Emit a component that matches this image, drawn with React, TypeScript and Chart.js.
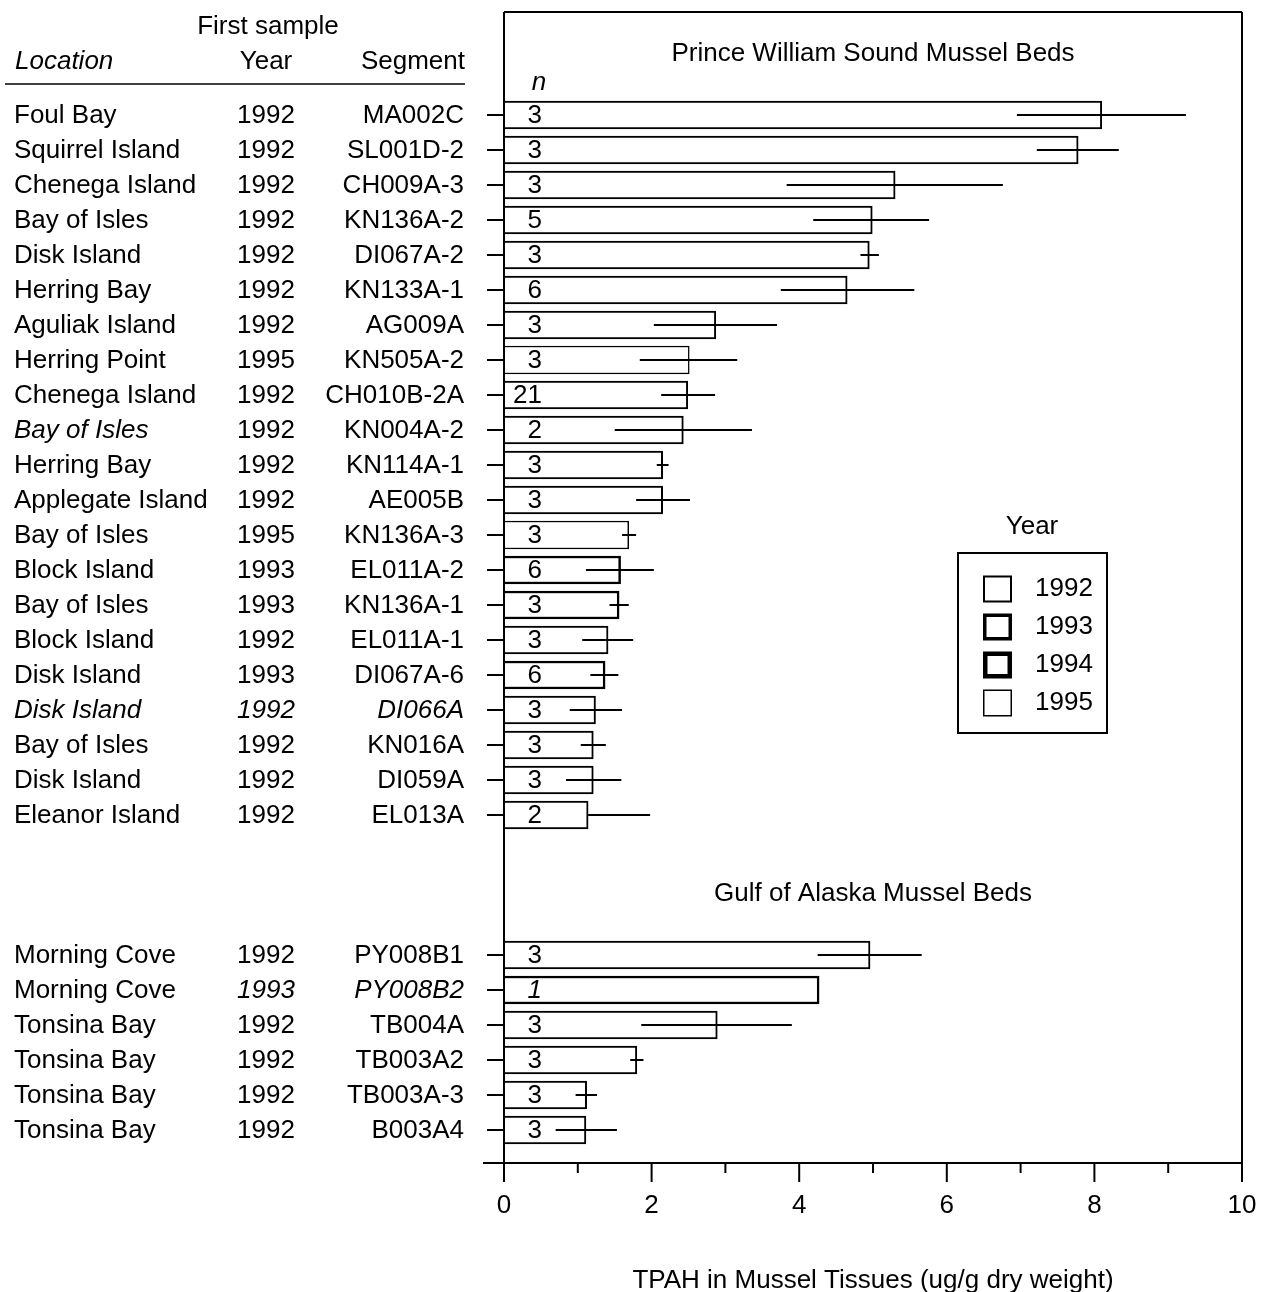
import { useEffect, useRef } from 'react';
import { Chart, registerables } from 'chart.js';

Chart.register(...registerables);

// ---------- data ----------
const locations = [
  'Foul Bay', 'Squirrel Island', 'Chenega Island', 'Bay of Isles', 'Disk Island',
  'Herring Bay', 'Aguliak Island', 'Herring Point', 'Chenega Island', 'Bay of Isles',
  'Herring Bay', 'Applegate Island', 'Bay of Isles', 'Block Island', 'Bay of Isles',
  'Block Island', 'Disk Island', 'Disk Island', 'Bay of Isles', 'Disk Island',
  'Eleanor Island',
  'Morning Cove', 'Morning Cove', 'Tonsina Bay', 'Tonsina Bay', 'Tonsina Bay', 'Tonsina Bay',
];
const years = [
  '1992', '1992', '1992', '1992', '1992', '1992', '1992', '1995', '1992', '1992',
  '1992', '1992', '1995', '1993', '1993', '1992', '1993', '1992', '1992', '1992',
  '1992',
  '1992', '1993', '1992', '1992', '1992', '1992',
];
const segments = [
  'MA002C', 'SL001D-2', 'CH009A-3', 'KN136A-2', 'DI067A-2', 'KN133A-1', 'AG009A',
  'KN505A-2', 'CH010B-2A', 'KN004A-2', 'KN114A-1', 'AE005B', 'KN136A-3', 'EL011A-2',
  'KN136A-1', 'EL011A-1', 'DI067A-6', 'DI066A', 'KN016A', 'DI059A', 'EL013A',
  'PY008B1', 'PY008B2', 'TB004A', 'TB003A2', 'TB003A-3', 'B003A4',
];
// row slot of each sample (PWS rows 0-20, a gap, then Gulf of Alaska rows 24-29)
const rowSlots = [
  0, 1, 2, 3, 4, 5, 6, 7, 8, 9, 10, 11, 12, 13, 14, 15, 16, 17, 18, 19, 20,
  24, 25, 26, 27, 28, 29,
];
const meanTPAH = [
  8.10, 7.78, 5.30, 4.99, 4.95, 4.65, 2.87, 2.51, 2.49, 2.43, 2.15, 2.15, 1.69, 1.58,
  1.56, 1.41, 1.37, 1.24, 1.21, 1.21, 1.14,
  4.96, 4.27, 2.89, 1.80, 1.12, 1.11,
];
const lowerTPAH: (number | null)[] = [
  6.95, 7.22, 3.83, 4.19, 4.83, 3.75, 2.03, 1.84, 2.13, 1.50, 2.07, 1.79, 1.60, 1.11,
  1.43, 1.06, 1.17, 0.89, 1.04, 0.84, 1.14,
  4.25, null, 1.86, 1.71, 0.97, 0.70,
];
const upperTPAH: (number | null)[] = [
  9.24, 8.33, 6.76, 5.76, 5.08, 5.56, 3.70, 3.16, 2.86, 3.36, 2.23, 2.52, 1.79, 2.03,
  1.69, 1.75, 1.55, 1.60, 1.38, 1.59, 1.98,
  5.66, null, 3.90, 1.89, 1.26, 1.53,
];
const sampleN = [
  '3', '3', '3', '5', '3', '6', '3', '3', '21', '2', '3', '3', '3', '6', '3', '3', '6',
  '3', '3', '3', '2',
  '3', '1', '3', '3', '3', '3',
];
const legendYears = ['1992', '1993', '1994', '1995'];
const xTickValues = [0, 1, 2, 3, 4, 5, 6, 7, 8, 9, 10];
const panelTitles = ['Prince William Sound Mussel Beds', 'Gulf of Alaska Mussel Beds'];
const panelTitleSlots = [-1.75, 22.25];
const xAxisTitle = 'TPAH in Mussel Tissues (ug/g dry weight)';
const tableHeaders = { group: 'First sample', location: 'Location', year: 'Year', segment: 'Segment', n: 'n' };

// ---------- styles ----------
const FAMILY = '"Liberation Sans", Arial, Helvetica, sans-serif';
const fnt = (size: number, italic = false) => `${italic ? 'italic ' : ''}${size}px ${FAMILY}`;
const TXT = 26;
const italicRows: Record<number, string[]> = {
  9: ['loc'],
  17: ['loc', 'year', 'seg'],
  22: ['year', 'seg', 'n'],
};
const yearBorder: Record<string, number> = { '1992': 2, '1993': 2.5, '1994': 3.5, '1995': 1.5 };
const legendBorder: Record<string, number> = { '1992': 2, '1993': 3.5, '1994': 4.5, '1995': 1.5 };

const decorPlugin = {
  id: 'decor',
  afterDraw(chart: any) {
    const { ctx, chartArea: ca, scales } = chart;
    const x = scales.x;
    const y = scales.y;
    ctx.save();
    ctx.strokeStyle = '#000';
    ctx.fillStyle = '#000';

    // error bars
    ctx.lineWidth = 2;
    meanTPAH.forEach((_, i) => {
      const lo = lowerTPAH[i];
      const hi = upperTPAH[i];
      if (lo == null || hi == null) return;
      const py = Math.round(y.getPixelForValue(rowSlots[i]));
      ctx.beginPath();
      ctx.moveTo(x.getPixelForValue(lo), py);
      ctx.lineTo(x.getPixelForValue(hi), py);
      ctx.stroke();
    });

    // frame & axes
    ctx.lineWidth = 2;
    ctx.beginPath();
    ctx.moveTo(ca.left - 21, ca.bottom);
    ctx.lineTo(ca.right, ca.bottom);
    ctx.moveTo(ca.left, ca.top);
    ctx.lineTo(ca.right, ca.top);
    ctx.moveTo(ca.left, ca.top);
    ctx.lineTo(ca.left, ca.bottom);
    ctx.moveTo(ca.right, ca.top);
    ctx.lineTo(ca.right, ca.bottom);
    ctx.stroke();
    // x ticks
    xTickValues.forEach((v) => {
      const px = x.getPixelForValue(v);
      const len = v % 2 === 0 ? 19 : 10;
      ctx.beginPath();
      ctx.moveTo(px, ca.bottom);
      ctx.lineTo(px, ca.bottom + len);
      ctx.stroke();
    });

    // n labels inside bars
    ctx.textBaseline = 'middle';
    ctx.textAlign = 'right';
    const nx = x.getPixelForValue(0) + 38;
    sampleN.forEach((n, i) => {
      const it = (italicRows[i] || []).includes('n');
      ctx.font = fnt(TXT, it);
      ctx.fillText(n, nx, y.getPixelForValue(rowSlots[i]) + 1);
    });
    ctx.font = fnt(TXT, true);
    ctx.textAlign = 'center';
    ctx.fillText(tableHeaders.n, nx - 3, y.getPixelForValue(-0.92));

    // panel titles
    ctx.font = fnt(26);
    ctx.textAlign = 'center';
    const cx = (ca.left + ca.right) / 2;
    panelTitles.forEach((t, k) => {
      ctx.fillText(t, cx, y.getPixelForValue(panelTitleSlots[k]));
    });

    // left table
    const colLoc = 14;
    const colYear = 266;
    const colSeg = 464;
    ctx.font = fnt(TXT);
    ctx.textAlign = 'center';
    ctx.fillText(tableHeaders.group, 268, 27);
    ctx.textAlign = 'left';
    ctx.font = fnt(TXT, true);
    ctx.fillText(tableHeaders.location, 15, 62);
    ctx.font = fnt(TXT);
    ctx.textAlign = 'center';
    ctx.fillText(tableHeaders.year, colYear, 62);
    ctx.textAlign = 'right';
    ctx.fillText(tableHeaders.segment, colSeg + 1, 62);
    ctx.lineWidth = 1.5;
    ctx.beginPath();
    ctx.moveTo(5, 84);
    ctx.lineTo(465, 84);
    ctx.stroke();

    locations.forEach((loc, i) => {
      const py = y.getPixelForValue(rowSlots[i]) + 1;
      const it = italicRows[i] || [];
      ctx.font = fnt(TXT, it.includes('loc'));
      ctx.textAlign = 'left';
      ctx.fillText(loc, colLoc, py);
      ctx.font = fnt(TXT, it.includes('year'));
      ctx.textAlign = 'center';
      ctx.fillText(years[i], colYear, py);
      ctx.font = fnt(TXT, it.includes('seg'));
      ctx.textAlign = 'right';
      ctx.fillText(segments[i], colSeg, py);
    });

    // legend
    ctx.font = fnt(26);
    ctx.textAlign = 'center';
    ctx.fillText('Year', 1032, 527);
    ctx.lineWidth = 2;
    ctx.strokeRect(958, 553, 149, 180);
    legendYears.forEach((yr, k) => {
      const cy = 589 + 38 * k;
      ctx.lineWidth = legendBorder[yr];
      const bw = legendBorder[yr];
      ctx.strokeRect(983 + bw / 2, cy - 13.5 + bw / 2, 29 - bw, 27 - bw);
      ctx.font = fnt(26);
      ctx.textAlign = 'left';
      ctx.fillText(yr, 1035, cy);
    });

    ctx.restore();
  },
};

export default function App() {
  const ref = useRef<HTMLCanvasElement>(null);
  useEffect(() => {
    if (!ref.current) return;
    const chart = new Chart(ref.current, {
      type: 'bar',
      data: {
        datasets: [
          {
            data: meanTPAH.map((v, i) => ({ x: v, y: rowSlots[i] })) as any,
            backgroundColor: '#ffffff',
            borderColor: '#000000',
            borderWidth: years.map((yr) => yearBorder[yr]) as any,
            barThickness: 28,
          },
        ],
      },
      options: {
        indexAxis: 'y',
        responsive: false,
        animation: false,
        devicePixelRatio: 1,
        layout: { padding: { top: 12, right: 24, bottom: 0, left: 0 } },
        plugins: { legend: { display: false }, tooltip: { enabled: false } },
        scales: {
          x: {
            type: 'linear',
            position: 'bottom',
            min: 0,
            max: 10,
            afterBuildTicks: (s: any) => {
              s.ticks = xTickValues.filter((v) => v % 2 === 0).map((v) => ({ value: v }));
            },
            ticks: {
              color: '#000',
              font: { family: FAMILY, size: 26 },
              padding: 27,
              maxRotation: 0,
              autoSkip: false,
            },
            grid: { display: false, drawTicks: false },
            border: { display: false },
            title: {
              display: true,
              text: xAxisTitle,
              color: '#000',
              font: { family: FAMILY, size: 26, lineHeight: 0.85 },
              padding: { top: 0, bottom: 0 },
            },
            afterFit: (s: any) => {
              s.height = 129;
              s.paddingLeft = 0;
              s.paddingRight = 0;
            },
          },
          y: {
            type: 'linear',
            reverse: true,
            offset: false,
            min: -2.943,
            max: 29.943,
            afterBuildTicks: (s: any) => {
              s.ticks = rowSlots.map((v) => ({ value: v }));
            },
            ticks: { display: false },
            grid: {
              display: true,
              offset: false,
              drawOnChartArea: false,
              drawTicks: true,
              tickLength: 17,
              color: '#000',
              lineWidth: 2,
            },
            border: { display: false },
            afterFit: (s: any) => {
              s.width = 504;
              s.paddingTop = 0;
              s.paddingBottom = 0;
            },
          },
        },
      },
      plugins: [decorPlugin],
    });
    return () => chart.destroy();
  }, []);

  return (
    <div style={{ position: 'fixed', top: 0, left: 0, width: 1266, height: 1292, background: '#fff' }}>
      <canvas ref={ref} width={1266} height={1292} style={{ display: 'block', width: 1266, height: 1292 }} />
    </div>
  );
}
